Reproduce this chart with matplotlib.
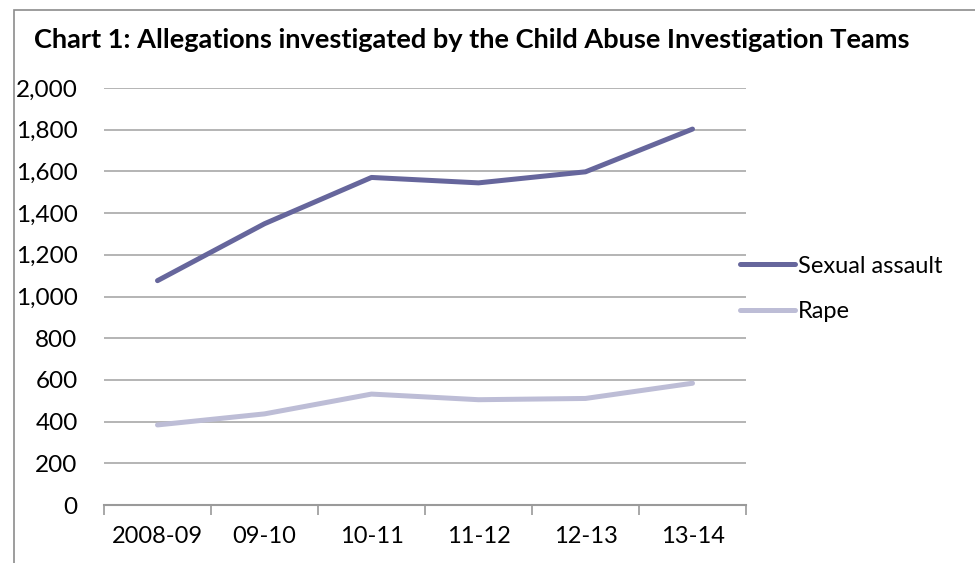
import numpy as np
import matplotlib
matplotlib.use('Agg')
import matplotlib.pyplot as plt
from matplotlib.patches import Rectangle

# data
years = ['2008-09', '09-10', '10-11', '11-12', '12-13', '13-14']
sexual_assault = [1076, 1349, 1571, 1545, 1598, 1803]
rape = [384, 437, 532, 505, 511, 584]

plt.rcParams['font.family'] = ['Lato', 'DejaVu Sans']

fig = plt.figure(figsize=(9.75, 5.63), dpi=100)

# outer chart frame (runs off the right and bottom edge)
fig.patches.append(Rectangle((14 / 975, -0.1), 1.2, 1 - 10 / 563 + 0.1,
                             transform=fig.transFigure, fill=False,
                             edgecolor='#8c8c8c', linewidth=1.2))

ax = fig.add_axes([104 / 975, 1 - 505 / 563, (746 - 104) / 975, (505 - 88) / 563])

x = np.arange(len(years))
ax.plot(x, sexual_assault, color='#66669c', linewidth=3.6, solid_capstyle='round',
        label='Sexual assault')
ax.plot(x, rape, color='#bdbdd6', linewidth=3.6, solid_capstyle='round', label='Rape')

ax.set_xlim(-0.5, len(years) - 0.5)
ax.set_ylim(0, 2000)
ax.set_yticks(range(0, 2001, 200))
ax.set_yticklabels(['{:,}'.format(v) for v in range(0, 2001, 200)])
ax.yaxis.grid(True, color='#a8a8a8', linewidth=1.2)
ax.set_axisbelow(True)
ax.tick_params(axis='y', length=0, pad=19, labelsize=17.5)

ax.set_xticks(x)
ax.set_xticklabels(years)
ax.set_xticks(np.arange(-0.5, len(years), 1.0), minor=True)
ax.tick_params(axis='x', which='major', length=0, pad=15, labelsize=17)
ax.tick_params(axis='x', which='minor', length=7, width=1.2, color='#9a9a9a', direction='out')

for s in ['left', 'right', 'top']:
    ax.spines[s].set_visible(False)
ax.spines['bottom'].set_color('#9a9a9a')
ax.spines['bottom'].set_linewidth(1.5)

fig.text(34 / 975, 1 - 48 / 563, 'Chart 1: Allegations investigated by the Child Abuse Investigation Teams',
         fontsize=19.5, fontweight='bold', ha='left', va='baseline')

fig.legend(loc='center left', bbox_to_anchor=(740 / 975, 1 - 289 / 563), frameon=False,
           borderpad=0, borderaxespad=0, fontsize=17, handlelength=2.35,
           handletextpad=0.1, labelspacing=1.05)

fig.savefig('out.png', dpi=100)
